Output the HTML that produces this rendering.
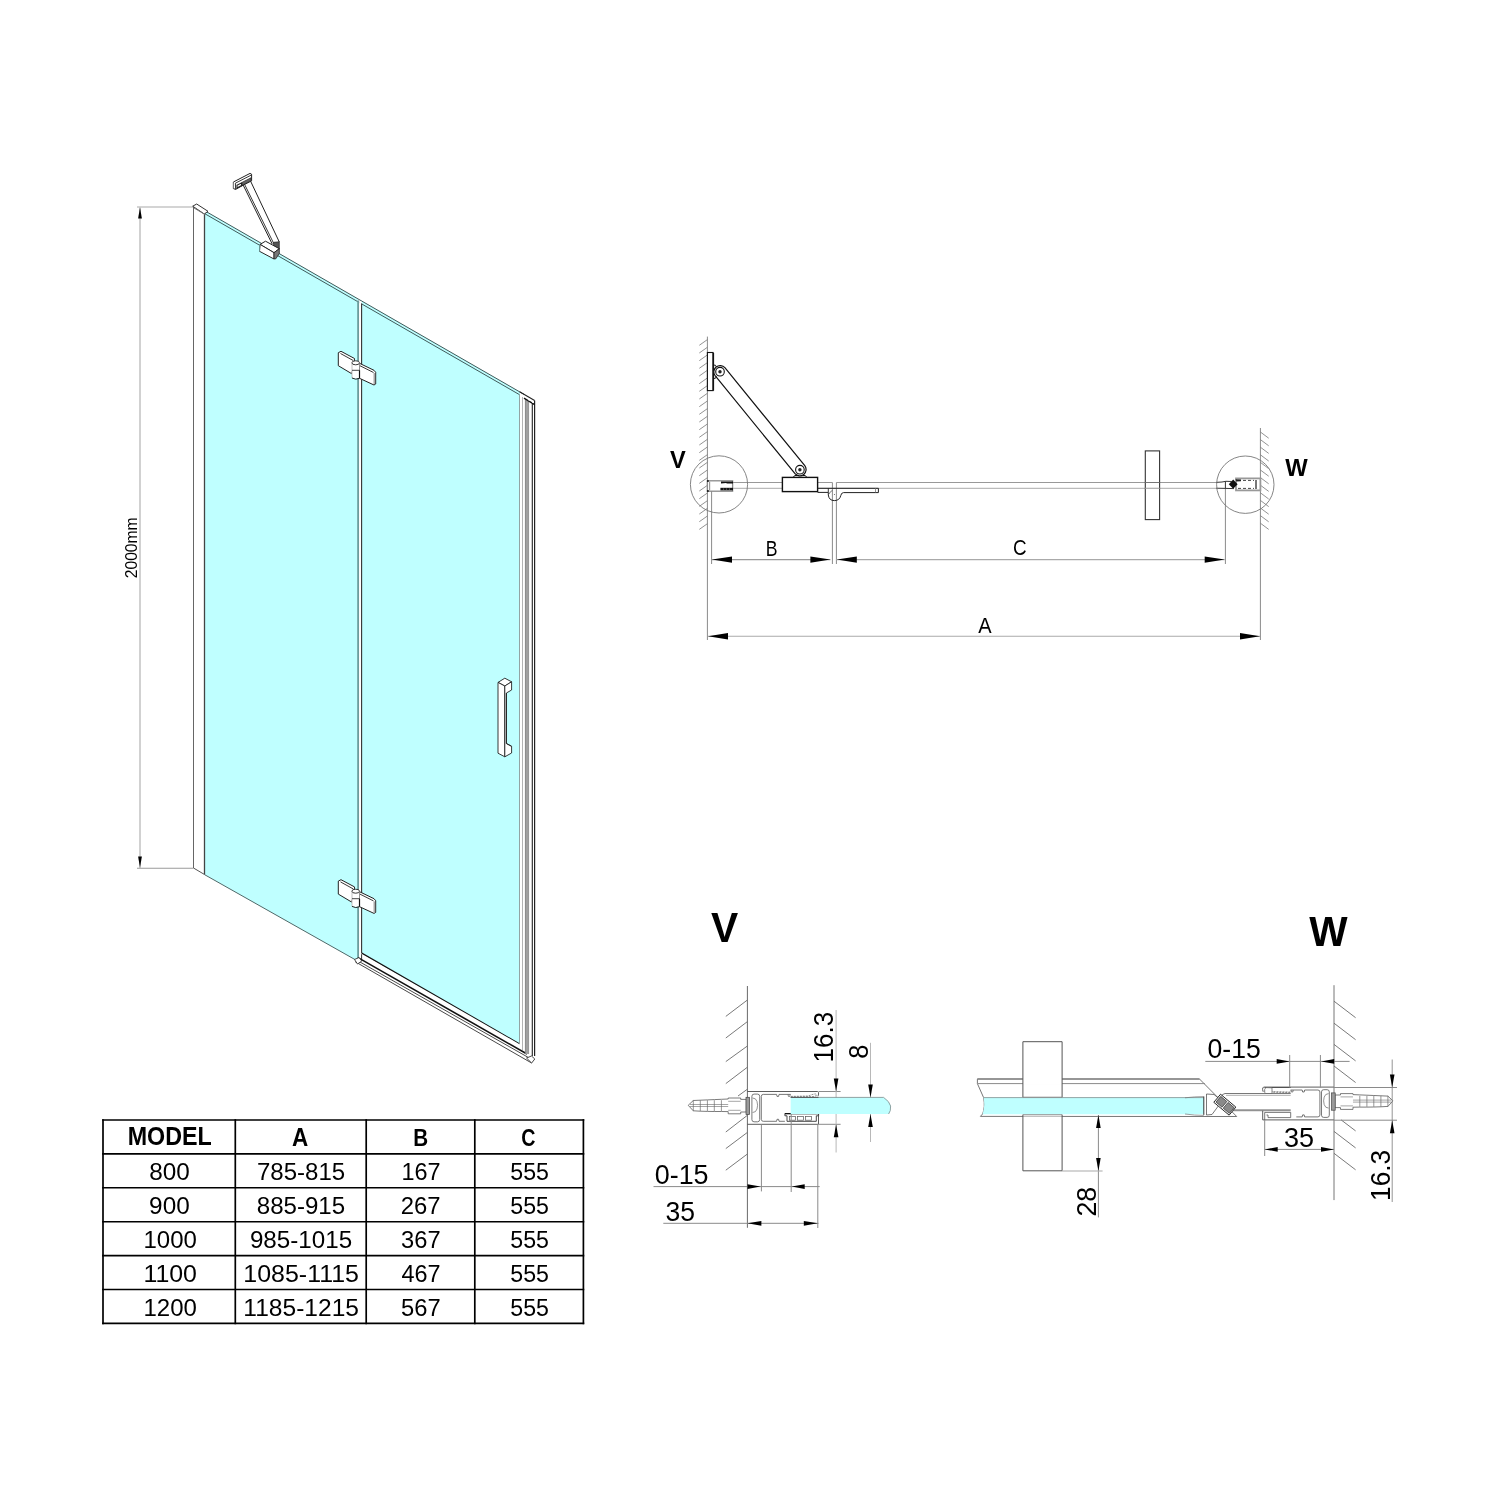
<!DOCTYPE html>
<html><head><meta charset="utf-8"><style>
html,body{margin:0;padding:0;background:#fff;}
svg{display:block;will-change:transform;}
text{font-family:"Liberation Sans", sans-serif;}
</style></head><body>
<svg width="1500" height="1500" viewBox="0 0 1500 1500">
<rect x="0" y="0" width="1500" height="1500" fill="#fff"/>
<line x1="140.00" y1="207.00" x2="140.00" y2="868.00" stroke="#c6c6c6" stroke-width="1.6" />
<line x1="137.00" y1="207.00" x2="193.00" y2="207.00" stroke="#c6c6c6" stroke-width="1.4" />
<line x1="137.00" y1="868.30" x2="193.50" y2="868.30" stroke="#9a9a9a" stroke-width="1.1" />
<polygon points="140.00,207.50 141.90,218.50 138.10,218.50" fill="#000" stroke="none" stroke-width="0" />
<polygon points="140.00,867.50 138.10,856.50 141.90,856.50" fill="#000" stroke="none" stroke-width="0" />
<polygon points="204.50,210.64 357.80,298.79 357.80,961.15 204.50,874.61" fill="#bfffff" stroke="none" stroke-width="0" />
<polygon points="361.40,300.86 520.00,392.05 520.00,1044.44 361.40,953.08" fill="#bfffff" stroke="none" stroke-width="0" />
<line x1="204.30" y1="210.52" x2="524.00" y2="394.35" stroke="#3f5a5a" stroke-width="1.0" />
<line x1="204.30" y1="213.42" x2="519.60" y2="394.72" stroke="#3f5a5a" stroke-width="1.0" />
<line x1="204.50" y1="874.61" x2="355.00" y2="959.57" stroke="#4f6868" stroke-width="1.0" />
<line x1="193.50" y1="206.00" x2="193.50" y2="868.00" stroke="#666" stroke-width="1.0" />
<line x1="204.50" y1="213.00" x2="204.50" y2="874.50" stroke="#444" stroke-width="1.3" />
<line x1="193.50" y1="868.00" x2="204.50" y2="874.50" stroke="#555" stroke-width="1" />
<polygon points="192.70,206.20 196.70,204.00 208.00,211.30 204.30,214.00" fill="#fff" stroke="#333" stroke-width="1" />
<line x1="194.00" y1="208.00" x2="205.00" y2="214.50" stroke="#777" stroke-width="1" />
<rect x="357.20" y="300.44" width="2.00" height="660.37" fill="#6c9c9c" stroke="none" stroke-width="0" />
<rect x="359.20" y="301.59" width="2.30" height="657.23" fill="#fff" stroke="none" stroke-width="0" />
<line x1="361.60" y1="303.47" x2="361.60" y2="953.20" stroke="#333" stroke-width="1.1" />
<line x1="361.60" y1="953.20" x2="519.60" y2="1044.21" stroke="#111" stroke-width="1.7" />
<polygon points="359.30,952.38 519.60,1044.21 531.60,1056.00 531.60,1063.00 359.30,962.91" fill="#fff" stroke="none" stroke-width="0" />
<line x1="361.60" y1="954.20" x2="361.60" y2="960.70" stroke="#333" stroke-width="1" />
<line x1="358.00" y1="957.67" x2="527.00" y2="1054.02" stroke="#111" stroke-width="1.6" />
<line x1="356.00" y1="959.75" x2="530.00" y2="1058.41" stroke="#333" stroke-width="0.9" />
<line x1="355.00" y1="961.58" x2="531.60" y2="1063.00" stroke="#333" stroke-width="0.9" />
<polygon points="354.50,959.50 359.00,957.50 361.80,961.00 357.50,964.00" fill="#fff" stroke="#333" stroke-width="0.9" />
<polygon points="526.50,1058.00 531.50,1056.00 534.80,1059.00 531.60,1063.00" fill="#fff" stroke="#333" stroke-width="0.9" />
<polygon points="519.50,394.66 534.60,400.45 535.00,1056.00 519.50,1044.00" fill="#fff" stroke="none" stroke-width="0" />
<line x1="519.50" y1="394.66" x2="519.50" y2="1044.00" stroke="#8a9a9a" stroke-width="0.9" />
<line x1="522.50" y1="396.99" x2="522.50" y2="1050.00" stroke="#aaa" stroke-width="0.9" />
<polygon points="525.20,399.04 528.80,401.11 528.80,1054.00 525.20,1054.00" fill="#a0a0a0" stroke="none" stroke-width="0" />
<line x1="525.40" y1="399.04" x2="525.40" y2="1054.00" stroke="#777" stroke-width="0.7" />
<line x1="528.60" y1="401.11" x2="528.60" y2="1054.00" stroke="#888" stroke-width="0.7" />
<line x1="532.30" y1="403.62" x2="532.30" y2="1056.00" stroke="#222" stroke-width="1.1" />
<line x1="534.60" y1="400.45" x2="534.60" y2="1056.00" stroke="#222" stroke-width="1.2" />
<line x1="519.60" y1="391.82" x2="534.60" y2="400.45" stroke="#222" stroke-width="1.1" />
<line x1="524.00" y1="398.15" x2="534.60" y2="404.65" stroke="#111" stroke-width="1.3" />
<ellipse cx="529.5" cy="399.71" rx="1.3" ry="1" fill="#fff"/>
<ellipse cx="533" cy="402.12" rx="1" ry="0.9" fill="#fff"/>
<polygon points="498.00,682.40 504.80,678.20 511.60,681.80 504.80,686.00" fill="#fff" stroke="#222" stroke-width="0.9" />
<polygon points="498.00,682.40 504.80,686.00 504.80,756.80 498.00,753.20" fill="#fff" stroke="#222" stroke-width="0.9" />
<polygon points="504.80,686.00 511.60,681.80 511.60,690.00 506.40,693.00 506.40,743.50 511.60,746.30 511.60,753.00 504.80,756.80" fill="#fff" stroke="#222" stroke-width="0.9" />
<line x1="506.40" y1="693.00" x2="506.40" y2="743.50" stroke="#222" stroke-width="0.9" />
<line x1="506.40" y1="743.50" x2="511.60" y2="746.30" stroke="#222" stroke-width="0.9" />
<polygon points="338.30,352.70 341.00,351.30 354.50,358.50 354.00,365.00 351.70,373.70 338.30,365.70" fill="#fff" stroke="#222" stroke-width="1" />
<line x1="340.50" y1="353.50" x2="353.00" y2="360.40" stroke="#222" stroke-width="0.9" />
<polygon points="359.50,363.30 374.00,370.30 375.70,372.30 375.70,384.00 374.00,385.00 359.50,378.30" fill="#fff" stroke="#222" stroke-width="1" />
<line x1="359.50" y1="365.50" x2="373.50" y2="372.50" stroke="#222" stroke-width="0.9" />
<rect x="373.50" y="373.00" width="1.60" height="11.00" fill="#aaa" stroke="none" stroke-width="0" />
<rect x="352.00" y="362.30" width="7.50" height="16.00" fill="#fff" stroke="none" stroke-width="0" />
<line x1="352.00" y1="363.00" x2="352.00" y2="378.00" stroke="#bbb" stroke-width="0.9" />
<line x1="359.50" y1="370.30" x2="359.50" y2="378.30" stroke="#111" stroke-width="1.2" />
<ellipse cx="355.7" cy="362.80" rx="3.8" ry="2" fill="#fff" stroke="#222" stroke-width="0.9"/>
<line x1="352.00" y1="370.30" x2="359.50" y2="370.30" stroke="#333" stroke-width="0.9" />
<path d="M352 378.00 Q355.7 380.20 359.5 378.30" fill="none" stroke="#222" stroke-width="1"/>
<polygon points="338.30,881.10 341.00,879.70 354.50,886.90 354.00,893.40 351.70,902.10 338.30,894.10" fill="#fff" stroke="#222" stroke-width="1" />
<line x1="340.50" y1="881.90" x2="353.00" y2="888.80" stroke="#222" stroke-width="0.9" />
<polygon points="359.50,891.70 374.00,898.70 375.70,900.70 375.70,912.40 374.00,913.40 359.50,906.70" fill="#fff" stroke="#222" stroke-width="1" />
<line x1="359.50" y1="893.90" x2="373.50" y2="900.90" stroke="#222" stroke-width="0.9" />
<rect x="373.50" y="901.40" width="1.60" height="11.00" fill="#aaa" stroke="none" stroke-width="0" />
<rect x="352.00" y="890.70" width="7.50" height="16.00" fill="#fff" stroke="none" stroke-width="0" />
<line x1="352.00" y1="891.40" x2="352.00" y2="906.40" stroke="#bbb" stroke-width="0.9" />
<line x1="359.50" y1="898.70" x2="359.50" y2="906.70" stroke="#111" stroke-width="1.2" />
<ellipse cx="355.7" cy="891.20" rx="3.8" ry="2" fill="#fff" stroke="#222" stroke-width="0.9"/>
<line x1="352.00" y1="898.70" x2="359.50" y2="898.70" stroke="#333" stroke-width="0.9" />
<path d="M352 906.40 Q355.7 908.60 359.5 906.70" fill="none" stroke="#222" stroke-width="1"/>
<polygon points="242.40,183.50 250.50,181.00 279.30,242.00 272.20,244.00" fill="#fff" stroke="none" stroke-width="0" />
<line x1="242.40" y1="183.50" x2="272.20" y2="244.00" stroke="#222" stroke-width="1" />
<line x1="244.00" y1="183.20" x2="273.80" y2="243.60" stroke="#222" stroke-width="0.9" />
<line x1="250.50" y1="181.00" x2="279.30" y2="242.00" stroke="#222" stroke-width="1" />
<polygon points="233.40,182.00 250.00,173.40 251.60,174.20 251.60,180.80 242.00,185.80 235.60,189.40 233.40,188.60" fill="#fff" stroke="#222" stroke-width="1" />
<line x1="235.40" y1="183.20" x2="251.40" y2="175.00" stroke="#222" stroke-width="0.9" />
<line x1="235.40" y1="183.20" x2="235.60" y2="189.40" stroke="#222" stroke-width="0.9" />
<line x1="233.40" y1="182.30" x2="233.40" y2="188.40" stroke="#999" stroke-width="0.8" />
<polygon points="237.00,185.20 241.60,182.80 241.60,185.60 237.00,188.00" fill="#fff" stroke="#222" stroke-width="1.1" />
<polygon points="242.00,182.40 251.00,177.80 251.00,180.60 242.00,185.40" fill="#666" stroke="#222" stroke-width="0.7" />
<polygon points="273.50,242.30 279.30,241.80 279.30,249.00 274.00,252.70" fill="#555" stroke="#222" stroke-width="0.7" />
<polygon points="260.10,244.40 265.50,241.20 279.30,248.70 274.00,252.70" fill="#fff" stroke="#222" stroke-width="1" />
<polygon points="260.10,244.40 274.00,252.70 274.00,259.00 259.50,251.30" fill="#fff" stroke="#2a2a2a" stroke-width="1" />
<polygon points="274.00,252.70 279.30,248.70 279.30,253.50 275.80,258.80 274.00,259.00" fill="#777" stroke="#222" stroke-width="0.8" />
<line x1="259.50" y1="245.00" x2="259.50" y2="251.30" stroke="#6a9a9a" stroke-width="0.9" />
<line x1="707.40" y1="336.60" x2="707.40" y2="640.00" stroke="#8a8a8a" stroke-width="1" />
<line x1="1260.40" y1="428.00" x2="1260.40" y2="640.00" stroke="#8a8a8a" stroke-width="1" />
<line x1="699.30" y1="345.30" x2="707.40" y2="339.60" stroke="#777" stroke-width="0.8" />
<line x1="699.30" y1="352.97" x2="707.40" y2="347.27" stroke="#777" stroke-width="0.8" />
<line x1="699.30" y1="360.64" x2="707.40" y2="354.94" stroke="#777" stroke-width="0.8" />
<line x1="699.30" y1="368.31" x2="707.40" y2="362.61" stroke="#777" stroke-width="0.8" />
<line x1="699.30" y1="375.98" x2="707.40" y2="370.28" stroke="#777" stroke-width="0.8" />
<line x1="699.30" y1="383.65" x2="707.40" y2="377.95" stroke="#777" stroke-width="0.8" />
<line x1="699.30" y1="391.32" x2="707.40" y2="385.62" stroke="#777" stroke-width="0.8" />
<line x1="699.30" y1="398.99" x2="707.40" y2="393.29" stroke="#777" stroke-width="0.8" />
<line x1="699.30" y1="406.66" x2="707.40" y2="400.96" stroke="#777" stroke-width="0.8" />
<line x1="699.30" y1="414.33" x2="707.40" y2="408.63" stroke="#777" stroke-width="0.8" />
<line x1="699.30" y1="422.00" x2="707.40" y2="416.30" stroke="#777" stroke-width="0.8" />
<line x1="699.30" y1="429.67" x2="707.40" y2="423.97" stroke="#777" stroke-width="0.8" />
<line x1="699.30" y1="437.34" x2="707.40" y2="431.64" stroke="#777" stroke-width="0.8" />
<line x1="699.30" y1="445.01" x2="707.40" y2="439.31" stroke="#777" stroke-width="0.8" />
<line x1="699.30" y1="452.68" x2="707.40" y2="446.98" stroke="#777" stroke-width="0.8" />
<line x1="699.30" y1="460.35" x2="707.40" y2="454.65" stroke="#777" stroke-width="0.8" />
<line x1="699.30" y1="468.02" x2="707.40" y2="462.32" stroke="#777" stroke-width="0.8" />
<line x1="699.30" y1="475.69" x2="707.40" y2="469.99" stroke="#777" stroke-width="0.8" />
<line x1="699.30" y1="483.36" x2="707.40" y2="477.66" stroke="#777" stroke-width="0.8" />
<line x1="699.30" y1="491.03" x2="707.40" y2="485.33" stroke="#777" stroke-width="0.8" />
<line x1="699.30" y1="498.70" x2="707.40" y2="493.00" stroke="#777" stroke-width="0.8" />
<line x1="699.30" y1="506.37" x2="707.40" y2="500.67" stroke="#777" stroke-width="0.8" />
<line x1="699.30" y1="514.04" x2="707.40" y2="508.34" stroke="#777" stroke-width="0.8" />
<line x1="699.30" y1="521.71" x2="707.40" y2="516.01" stroke="#777" stroke-width="0.8" />
<line x1="699.30" y1="529.38" x2="707.40" y2="523.68" stroke="#777" stroke-width="0.8" />
<line x1="1260.40" y1="432.00" x2="1268.70" y2="438.20" stroke="#777" stroke-width="0.8" />
<line x1="1260.40" y1="439.60" x2="1268.70" y2="445.80" stroke="#777" stroke-width="0.8" />
<line x1="1260.40" y1="447.20" x2="1268.70" y2="453.40" stroke="#777" stroke-width="0.8" />
<line x1="1260.40" y1="454.80" x2="1268.70" y2="461.00" stroke="#777" stroke-width="0.8" />
<line x1="1260.40" y1="462.40" x2="1268.70" y2="468.60" stroke="#777" stroke-width="0.8" />
<line x1="1260.40" y1="470.00" x2="1268.70" y2="476.20" stroke="#777" stroke-width="0.8" />
<line x1="1260.40" y1="477.60" x2="1268.70" y2="483.80" stroke="#777" stroke-width="0.8" />
<line x1="1260.40" y1="485.20" x2="1268.70" y2="491.40" stroke="#777" stroke-width="0.8" />
<line x1="1260.40" y1="492.80" x2="1268.70" y2="499.00" stroke="#777" stroke-width="0.8" />
<line x1="1260.40" y1="500.40" x2="1268.70" y2="506.60" stroke="#777" stroke-width="0.8" />
<line x1="1260.40" y1="508.00" x2="1268.70" y2="514.20" stroke="#777" stroke-width="0.8" />
<line x1="1260.40" y1="515.60" x2="1268.70" y2="521.80" stroke="#777" stroke-width="0.8" />
<line x1="1260.40" y1="523.20" x2="1268.70" y2="529.40" stroke="#777" stroke-width="0.8" />
<line x1="733.00" y1="482.50" x2="832.40" y2="482.50" stroke="#999" stroke-width="1" />
<line x1="836.40" y1="482.50" x2="1216.00" y2="482.50" stroke="#999" stroke-width="1" />
<line x1="733.00" y1="488.30" x2="1216.00" y2="488.30" stroke="#bbb" stroke-width="1.2" />
<rect x="707.40" y="352.50" width="5.70" height="38.10" fill="#fff" stroke="#111" stroke-width="1.1" />
<line x1="713.30" y1="353.00" x2="713.30" y2="390.60" stroke="#111" stroke-width="1.6" />
<path d="M715.12 375.68 L795.02 473.68 A6.3 6.3 0 0 0 804.78 465.72 L724.88 367.72 A6.3 6.3 0 0 0 715.12 375.68 Z" fill="#fff" stroke="#111" stroke-width="1.2"/>
<circle cx="720.00" cy="371.70" r="4.30" fill="#fff" stroke="#111" stroke-width="1.1" />
<circle cx="720.00" cy="371.70" r="1.70" fill="#222" stroke="none" stroke-width="0" />
<circle cx="799.90" cy="469.70" r="4.30" fill="#fff" stroke="#111" stroke-width="1.1" />
<circle cx="799.90" cy="469.70" r="1.70" fill="#222" stroke="none" stroke-width="0" />
<path d="M793 477.4 Q795 474.5 797 475.5 M803 475.5 Q805 474.5 807 477.4" fill="none" stroke="#111" stroke-width="1"/>
<path d="M713.3 365 Q716 364.5 716.5 367 M713.3 378.5 Q716 379 716.5 376.5" fill="none" stroke="#111" stroke-width="1"/>
<rect x="782.40" y="477.40" width="35.20" height="14.20" fill="#fff" stroke="#111" stroke-width="1.4" />
<rect x="707.40" y="480.80" width="25.20" height="10.40" fill="#fff" stroke="#8a8a8a" stroke-width="1.3" />
<line x1="709.60" y1="481.50" x2="709.60" y2="490.50" stroke="#999" stroke-width="1.2" />
<path d="M721 481.4 L733 481.4 L733 483.6 L727 483.6 L726 483 L721 483.4 Z" fill="#111"/>
<path d="M720.4 487.8 L733 487.8 L733 490.4 L720.4 490.4 Z" fill="#151515"/>
<rect x="723.00" y="488.60" width="1.00" height="1.00" fill="#777" stroke="none" stroke-width="0" />
<rect x="726.00" y="488.60" width="1.00" height="1.00" fill="#777" stroke="none" stroke-width="0" />
<rect x="729.00" y="488.60" width="1.00" height="1.00" fill="#777" stroke="none" stroke-width="0" />
<circle cx="707.90" cy="481.00" r="1.00" fill="#111" stroke="none" stroke-width="0" />
<circle cx="707.90" cy="491.00" r="1.00" fill="#111" stroke="none" stroke-width="0" />
<line x1="711.60" y1="491.00" x2="711.60" y2="564.00" stroke="#8a8a8a" stroke-width="1" />
<line x1="832.40" y1="482.50" x2="832.40" y2="564.00" stroke="#8a8a8a" stroke-width="1" />
<line x1="836.40" y1="482.50" x2="836.40" y2="564.00" stroke="#8a8a8a" stroke-width="1" />
<line x1="1225.40" y1="488.50" x2="1225.40" y2="564.00" stroke="#8a8a8a" stroke-width="1" />
<path d="M817.6 488.3 L878.4 488.3 L878.4 492.6 L843.5 492.6 Q841.2 492.8 840.8 495.5 Q839.6 500.6 834.4 500.6 Q829 500.6 828.3 495 L828.3 492.4 L817.6 492.4" fill="none" stroke="#222" stroke-width="1"/>
<line x1="828.30" y1="488.30" x2="828.30" y2="492.40" stroke="#222" stroke-width="0.9" />
<line x1="875.50" y1="488.30" x2="875.50" y2="492.60" stroke="#777" stroke-width="0.8" />
<circle cx="834.40" cy="494.60" r="0.50" fill="#444" stroke="none" stroke-width="0" />
<path d="M829 494 Q830.5 491 832.4 490.5" fill="none" stroke="#444" stroke-width="0.7"/>
<rect x="1145.30" y="450.90" width="14.30" height="68.70" fill="#fff" stroke="#333" stroke-width="1.1" />
<line x1="1145.30" y1="482.50" x2="1159.60" y2="482.50" stroke="#777" stroke-width="1" />
<line x1="1145.30" y1="488.30" x2="1159.60" y2="488.30" stroke="#aaa" stroke-width="1.2" />
<rect x="1236.00" y="478.40" width="24.40" height="12.00" fill="#fff" stroke="#999" stroke-width="1.8" />
<line x1="1256.00" y1="480.00" x2="1256.00" y2="489.00" stroke="#555" stroke-width="1.6" />
<path d="M1238 480.4 L1254 480.4" stroke="#444" stroke-width="1" stroke-dasharray="3 2" fill="none"/>
<path d="M1238 488.4 L1254 488.4" stroke="#444" stroke-width="1" stroke-dasharray="3 2" fill="none"/>
<polygon points="1228.80,484.20 1233.20,479.60 1237.60,484.20 1233.20,488.80" fill="#111" stroke="none" stroke-width="0" />
<polygon points="1235.50,479.20 1241.00,479.40 1241.00,481.20 1236.50,481.60" fill="#222" stroke="none" stroke-width="0" />
<polyline points="1216.00,482.40 1222.00,482.00 1226.00,481.30 1232.00,481.50" fill="none" stroke="#333" stroke-width="1" />
<polyline points="1216.00,488.20 1226.00,488.40 1234.00,488.60" fill="none" stroke="#333" stroke-width="1" />
<line x1="1225.40" y1="481.50" x2="1225.40" y2="488.40" stroke="#333" stroke-width="1" />
<circle cx="719.00" cy="484.40" r="28.60" fill="none" stroke="#777" stroke-width="0.9" />
<circle cx="1245.30" cy="484.70" r="28.70" fill="none" stroke="#777" stroke-width="0.9" />
<line x1="712.00" y1="559.60" x2="830.40" y2="559.60" stroke="#999" stroke-width="1.1" />
<polygon points="712.00,559.60 732.00,556.40 732.00,562.80" fill="#000" stroke="none" stroke-width="0" />
<polygon points="830.40,559.60 810.40,562.80 810.40,556.40" fill="#000" stroke="none" stroke-width="0" />
<line x1="836.40" y1="559.60" x2="1224.70" y2="559.60" stroke="#aaa" stroke-width="1.1" />
<polygon points="836.80,559.60 856.80,556.40 856.80,562.80" fill="#000" stroke="none" stroke-width="0" />
<polygon points="1224.70,559.60 1204.70,562.80 1204.70,556.40" fill="#000" stroke="none" stroke-width="0" />
<line x1="708.00" y1="636.20" x2="1260.00" y2="636.20" stroke="#aaa" stroke-width="1.1" />
<polygon points="708.00,636.20 728.00,633.00 728.00,639.40" fill="#000" stroke="none" stroke-width="0" />
<polygon points="1260.00,636.20 1240.00,639.40 1240.00,633.00" fill="#000" stroke="none" stroke-width="0" />
<line x1="747.40" y1="986.00" x2="747.40" y2="1227.80" stroke="#6a6a6a" stroke-width="1" />
<line x1="725.80" y1="1016.40" x2="747.40" y2="1000.00" stroke="#6a6a6a" stroke-width="0.9" />
<line x1="725.80" y1="1038.00" x2="747.40" y2="1021.60" stroke="#6a6a6a" stroke-width="0.9" />
<line x1="725.80" y1="1061.60" x2="747.40" y2="1046.00" stroke="#6a6a6a" stroke-width="0.9" />
<line x1="725.80" y1="1083.60" x2="747.40" y2="1067.20" stroke="#6a6a6a" stroke-width="0.9" />
<line x1="725.80" y1="1132.00" x2="747.40" y2="1115.30" stroke="#6a6a6a" stroke-width="0.9" />
<line x1="725.80" y1="1148.60" x2="747.40" y2="1132.40" stroke="#6a6a6a" stroke-width="0.9" />
<line x1="725.80" y1="1170.20" x2="747.40" y2="1154.00" stroke="#6a6a6a" stroke-width="0.9" />
<line x1="738.00" y1="1096.00" x2="747.40" y2="1089.20" stroke="#6a6a6a" stroke-width="0.9" />
<g transform=""><path d="M688.2 1105.3 L693.3 1100.5 L700.3 1100.2 L707.4 1099.9 L714.3 1099.6 L721.4 1099.3 L728.2 1099 L728.2 1098 L740.7 1098 L740.7 1099.4 L746.3 1099.4 L746.3 1112 L740.7 1112 L740.7 1113.8 L728.2 1113.8 L728.2 1111.6 L721.4 1111.5 L714.3 1111.5 L707.4 1111.4 L700.3 1111.2 L693.3 1110.8 Z" fill="#fff" stroke="#5a5a5a" stroke-width="0.8"/><line x1="693.3" y1="1100.2" x2="693.3" y2="1111.2" stroke="#6a6a6a" stroke-width="0.7"/><line x1="700.3" y1="1100.2" x2="700.3" y2="1111.2" stroke="#6a6a6a" stroke-width="0.7"/><line x1="707.4" y1="1100.2" x2="707.4" y2="1111.2" stroke="#6a6a6a" stroke-width="0.7"/><line x1="714.3" y1="1100.2" x2="714.3" y2="1111.2" stroke="#6a6a6a" stroke-width="0.7"/><line x1="721.4" y1="1100.2" x2="721.4" y2="1111.2" stroke="#6a6a6a" stroke-width="0.7"/><line x1="690" y1="1104.5" x2="728.2" y2="1104.5" stroke="#6a6a6a" stroke-width="0.6"/><line x1="690" y1="1106.5" x2="728.2" y2="1106.5" stroke="#6a6a6a" stroke-width="0.6"/><line x1="728.2" y1="1101.3" x2="740.7" y2="1101.3" stroke="#6a6a6a" stroke-width="0.6"/><line x1="728.2" y1="1110.3" x2="740.7" y2="1110.3" stroke="#6a6a6a" stroke-width="0.6"/><rect x="746" y="1097.3" width="3.6" height="17.3" fill="#9a9a9a" stroke="#444" stroke-width="0.7"/><path d="M747.4 1091.5 L817.6 1091.5 Q818.8 1092 818.6 1094 L818 1096.2" fill="none" stroke="#4a4a4a" stroke-width="0.9"/><path d="M747.4 1124.3 L818.5 1124.3 L818.5 1113.6" fill="none" stroke="#4a4a4a" stroke-width="0.9"/><rect x="751.9" y="1094.1" width="7.8" height="27.7" rx="2.2" fill="#fff" stroke="#555" stroke-width="0.8"/><path d="M752.6 1098 Q756 1098 757 1101.5 Q758.2 1105.2 757 1109 Q756 1112.5 752.6 1112.5" fill="none" stroke="#666" stroke-width="0.7"/><path d="M790.7 1094.4 L779 1094.4 L778.6 1096.4 L777 1096.4 L776.6 1094.4 L763.3 1094.4 Q761.3 1094.4 761.3 1096.4 L761.3 1119.3 Q761.3 1121.3 763.3 1121.3 L776.6 1121.3 L777 1119.3 L778.6 1119.3 L779 1121.3 L784.9 1121.3" fill="none" stroke="#555" stroke-width="0.8"/><path d="M788 1094.4 L788.4 1096.4 L789.8 1096.4 L790.2 1094.4" fill="none" stroke="#555" stroke-width="0.7"/><path d="M790.7 1096.4 L808 1096 L812 1094.6 L815.5 1093.8 L816.6 1095.6 L813 1096.6 L790.7 1097" fill="none" stroke="#666" stroke-width="0.7" stroke-dasharray="2 1"/></g>
<path d="M784.9 1113.6 L818.6 1113.6 L818.6 1115.8 L816.3 1115.8 L816.3 1121.3 L787 1121.3 L787 1115.8 L784.9 1115.8 Z" fill="#fff" stroke="#333" stroke-width="0.9"/>
<rect x="789.50" y="1116.60" width="6.00" height="3.60" fill="none" stroke="#555" stroke-width="0.7" />
<rect x="797.50" y="1116.60" width="6.00" height="3.60" fill="none" stroke="#555" stroke-width="0.7" />
<rect x="805.50" y="1116.60" width="6.00" height="3.60" fill="none" stroke="#555" stroke-width="0.7" />
<line x1="784.90" y1="1113.60" x2="818.60" y2="1113.60" stroke="#111" stroke-width="1.3" />
<line x1="818.50" y1="1091.50" x2="840.60" y2="1091.50" stroke="#8a8a8a" stroke-width="1" />
<line x1="818.50" y1="1124.30" x2="840.60" y2="1124.30" stroke="#8a8a8a" stroke-width="1" />
<line x1="836.10" y1="1010.00" x2="836.10" y2="1152.50" stroke="#b8b8b8" stroke-width="1" />
<polygon points="836.10,1091.50 833.80,1078.50 838.40,1078.50" fill="#000" stroke="none" stroke-width="0" />
<polygon points="836.10,1124.30 838.40,1137.30 833.80,1137.30" fill="#000" stroke="none" stroke-width="0" />
<line x1="870.50" y1="1042.80" x2="870.50" y2="1142.00" stroke="#b8b8b8" stroke-width="1" />
<polygon points="870.50,1097.40 868.20,1084.40 872.80,1084.40" fill="#000" stroke="none" stroke-width="0" />
<polygon points="870.50,1114.00 872.80,1127.00 868.20,1127.00" fill="#000" stroke="none" stroke-width="0" />
<path d="M790.7 1097.4 L883.6 1097.4 Q889.6 1101.5 890.6 1106 Q891 1111 888.6 1114 L790.7 1114 Z" fill="#bfffff" stroke="none"/>
<path d="M790.7 1097.4 L883.6 1097.4 Q889.6 1101.5 890.6 1106 Q891 1111 888.6 1114" fill="none" stroke="#7a8a8a" stroke-width="0.8"/>
<line x1="790.70" y1="1097.40" x2="818.50" y2="1097.40" stroke="#555" stroke-width="1" />
<line x1="761.40" y1="1124.30" x2="761.40" y2="1191.40" stroke="#8a8a8a" stroke-width="1" />
<line x1="791.20" y1="1114.00" x2="791.20" y2="1192.00" stroke="#8a8a8a" stroke-width="1" />
<line x1="817.80" y1="1124.30" x2="817.80" y2="1228.00" stroke="#8a8a8a" stroke-width="1" />
<line x1="653.50" y1="1186.60" x2="819.70" y2="1186.60" stroke="#8a8a8a" stroke-width="1" />
<polygon points="760.50,1186.60 747.50,1189.00 747.50,1184.20" fill="#000" stroke="none" stroke-width="0" />
<polygon points="791.70,1186.60 804.70,1184.20 804.70,1189.00" fill="#000" stroke="none" stroke-width="0" />
<line x1="663.30" y1="1223.30" x2="818.50" y2="1223.30" stroke="#8a8a8a" stroke-width="1" />
<polygon points="747.40,1223.30 761.40,1220.90 761.40,1225.70" fill="#000" stroke="none" stroke-width="0" />
<polygon points="817.80,1223.30 803.80,1225.70 803.80,1220.90" fill="#000" stroke="none" stroke-width="0" />
<line x1="1334.00" y1="985.20" x2="1334.00" y2="1200.10" stroke="#777" stroke-width="1" />
<line x1="1334.00" y1="1001.20" x2="1355.60" y2="1017.70" stroke="#6a6a6a" stroke-width="0.9" />
<line x1="1334.00" y1="1023.20" x2="1355.60" y2="1039.70" stroke="#6a6a6a" stroke-width="0.9" />
<line x1="1334.00" y1="1044.40" x2="1355.60" y2="1060.90" stroke="#6a6a6a" stroke-width="0.9" />
<line x1="1334.00" y1="1066.00" x2="1355.60" y2="1082.50" stroke="#6a6a6a" stroke-width="0.9" />
<line x1="1334.00" y1="1131.40" x2="1355.60" y2="1147.90" stroke="#6a6a6a" stroke-width="0.9" />
<line x1="1334.00" y1="1153.30" x2="1355.60" y2="1169.80" stroke="#6a6a6a" stroke-width="0.9" />
<line x1="1341.00" y1="1119.80" x2="1355.60" y2="1130.90" stroke="#6a6a6a" stroke-width="0.9" />
<g transform="translate(2081.2 -4.4) scale(-1 1)"><path d="M688.2 1105.3 L693.3 1100.5 L700.3 1100.2 L707.4 1099.9 L714.3 1099.6 L721.4 1099.3 L728.2 1099 L728.2 1098 L740.7 1098 L740.7 1099.4 L746.3 1099.4 L746.3 1112 L740.7 1112 L740.7 1113.8 L728.2 1113.8 L728.2 1111.6 L721.4 1111.5 L714.3 1111.5 L707.4 1111.4 L700.3 1111.2 L693.3 1110.8 Z" fill="#fff" stroke="#5a5a5a" stroke-width="0.8"/><line x1="693.3" y1="1100.2" x2="693.3" y2="1111.2" stroke="#6a6a6a" stroke-width="0.7"/><line x1="700.3" y1="1100.2" x2="700.3" y2="1111.2" stroke="#6a6a6a" stroke-width="0.7"/><line x1="707.4" y1="1100.2" x2="707.4" y2="1111.2" stroke="#6a6a6a" stroke-width="0.7"/><line x1="714.3" y1="1100.2" x2="714.3" y2="1111.2" stroke="#6a6a6a" stroke-width="0.7"/><line x1="721.4" y1="1100.2" x2="721.4" y2="1111.2" stroke="#6a6a6a" stroke-width="0.7"/><line x1="690" y1="1104.5" x2="728.2" y2="1104.5" stroke="#6a6a6a" stroke-width="0.6"/><line x1="690" y1="1106.5" x2="728.2" y2="1106.5" stroke="#6a6a6a" stroke-width="0.6"/><line x1="728.2" y1="1101.3" x2="740.7" y2="1101.3" stroke="#6a6a6a" stroke-width="0.6"/><line x1="728.2" y1="1110.3" x2="740.7" y2="1110.3" stroke="#6a6a6a" stroke-width="0.6"/><rect x="746" y="1097.3" width="3.6" height="17.3" fill="#9a9a9a" stroke="#444" stroke-width="0.7"/><path d="M747.4 1091.5 L817.6 1091.5 Q818.8 1092 818.6 1094 L818 1096.2" fill="none" stroke="#4a4a4a" stroke-width="0.9"/><path d="M747.4 1124.3 L818.5 1124.3 L818.5 1113.6" fill="none" stroke="#4a4a4a" stroke-width="0.9"/><rect x="751.9" y="1094.1" width="7.8" height="27.7" rx="2.2" fill="#fff" stroke="#555" stroke-width="0.8"/><path d="M752.6 1098 Q756 1098 757 1101.5 Q758.2 1105.2 757 1109 Q756 1112.5 752.6 1112.5" fill="none" stroke="#666" stroke-width="0.7"/><path d="M790.7 1094.4 L779 1094.4 L778.6 1096.4 L777 1096.4 L776.6 1094.4 L763.3 1094.4 Q761.3 1094.4 761.3 1096.4 L761.3 1119.3 Q761.3 1121.3 763.3 1121.3 L776.6 1121.3 L777 1119.3 L778.6 1119.3 L779 1121.3 L784.9 1121.3" fill="none" stroke="#555" stroke-width="0.8"/><path d="M788 1094.4 L788.4 1096.4 L789.8 1096.4 L790.2 1094.4" fill="none" stroke="#555" stroke-width="0.7"/><path d="M790.7 1096.4 L808 1096 L812 1094.6 L815.5 1093.8 L816.6 1095.6 L813 1096.6 L790.7 1097" fill="none" stroke="#666" stroke-width="0.7" stroke-dasharray="2 1"/></g>
<path d="M1264.7 1120.3 L1264.7 1112.4 L1290.7 1112.4 L1290.7 1117.6 L1268 1117.6 L1268 1115 L1266.5 1115" fill="none" stroke="#555" stroke-width="0.8"/>
<path d="M1264.7 1087.5 L1290.7 1087.5" fill="none" stroke="#4a4a4a" stroke-width="0.9"/>
<path d="M1264.7 1089.2 L1266 1087.6 L1272 1087.8 L1272 1093.8 L1266 1093.8 L1264.7 1092.3 Z" fill="#fff" stroke="#555" stroke-width="0.7"/>
<path d="M1290.7 1093.5 L1225 1093.5 Q1221.6 1094 1221.6 1097 L1221.6 1107 Q1222 1110.7 1225 1110.7 L1290.7 1110.7" fill="#fff" stroke="#555" stroke-width="0.8"/>
<line x1="1226.00" y1="1095.30" x2="1290.70" y2="1095.30" stroke="#777" stroke-width="0.6" />
<line x1="1226.00" y1="1109.50" x2="1290.70" y2="1109.50" stroke="#777" stroke-width="0.6" />
<path d="M977.4 1079 L1199.5 1079 L1236.7 1116.5 L980.4 1116.4 L982.6 1114 Q985.4 1107 983.6 1097.6 L977.4 1083.6 Z" fill="#fff" stroke="#666" stroke-width="0.9"/>
<line x1="977.40" y1="1079.00" x2="1199.50" y2="1079.00" stroke="#8a8a8a" stroke-width="1.5" />
<line x1="977.40" y1="1083.60" x2="1205.00" y2="1083.60" stroke="#8a8a8a" stroke-width="1" />
<path d="M983.6 1097.6 L1203.8 1097.6 L1203.8 1114.2 L982.6 1114.2 Q985.4 1107 983.6 1097.6 Z" fill="#bfffff" stroke="none"/>
<line x1="983.60" y1="1097.60" x2="1203.80" y2="1097.60" stroke="#8a9a9a" stroke-width="0.9" />
<line x1="1203.80" y1="1096.50" x2="1203.80" y2="1114.90" stroke="#333" stroke-width="1" />
<path d="M1206.5 1094 L1214 1094.5 L1222 1101 L1212 1114.5 L1206.5 1115 Z" fill="none" stroke="#555" stroke-width="0.8"/>
<rect x="1022.90" y="1041.70" width="39.20" height="42.50" fill="#fff" stroke="none" stroke-width="0" />
<rect x="1022.90" y="1116.50" width="39.20" height="54.30" fill="#fff" stroke="none" stroke-width="0" />
<rect x="1022.90" y="1084.20" width="39.20" height="13.00" fill="#fff" stroke="none" stroke-width="0" />
<polyline points="1022.90,1097.20 1022.90,1041.70 1062.10,1041.70 1062.10,1097.20" fill="none" stroke="#555" stroke-width="1" />
<polyline points="1022.90,1114.70 1022.90,1170.80 1062.10,1170.80 1062.10,1114.70" fill="none" stroke="#555" stroke-width="1" />
<line x1="1022.90" y1="1097.20" x2="1062.10" y2="1097.20" stroke="#777" stroke-width="0.8" />
<line x1="1022.90" y1="1114.70" x2="1062.10" y2="1114.70" stroke="#777" stroke-width="0.8" />
<g transform="rotate(40 1225 1104.5)"><rect x="1215" y="1099.5" width="20" height="10.5" fill="#fff" stroke="#222" stroke-width="0.9"/><rect x="1216.5" y="1101" width="8" height="7.5" fill="#8a8a8a" stroke="#222" stroke-width="0.6"/><rect x="1226" y="1101" width="8" height="7.5" fill="#8a8a8a" stroke="#222" stroke-width="0.6"/></g>
<path d="M1185 1097.8 Q1195 1096.6 1203.8 1096.6 M1185 1114 Q1195 1115.4 1203.8 1115.4" fill="none" stroke="#777" stroke-width="0.7"/>
<line x1="1098.40" y1="1115.00" x2="1098.40" y2="1217.40" stroke="#8a8a8a" stroke-width="1" />
<polygon points="1098.40,1115.00 1100.70,1128.00 1096.10,1128.00" fill="#000" stroke="none" stroke-width="0" />
<polygon points="1098.40,1171.00 1096.10,1158.00 1100.70,1158.00" fill="#000" stroke="none" stroke-width="0" />
<line x1="1062.10" y1="1171.00" x2="1102.60" y2="1171.00" stroke="#aaa" stroke-width="1.2" />
<line x1="1205.30" y1="1061.40" x2="1349.60" y2="1061.40" stroke="#8a8a8a" stroke-width="1" />
<polygon points="1289.70,1061.40 1276.70,1063.70 1276.70,1059.10" fill="#000" stroke="none" stroke-width="0" />
<polygon points="1321.20,1061.40 1334.20,1059.10 1334.20,1063.70" fill="#000" stroke="none" stroke-width="0" />
<line x1="1289.70" y1="1055.00" x2="1289.70" y2="1087.50" stroke="#8a8a8a" stroke-width="1" />
<line x1="1320.40" y1="1055.00" x2="1320.40" y2="1087.50" stroke="#8a8a8a" stroke-width="1" />
<line x1="1264.70" y1="1120.30" x2="1264.70" y2="1156.00" stroke="#8a8a8a" stroke-width="1" />
<line x1="1264.70" y1="1149.40" x2="1334.00" y2="1149.40" stroke="#8a8a8a" stroke-width="1" />
<polygon points="1264.70,1149.40 1277.70,1147.10 1277.70,1151.70" fill="#000" stroke="none" stroke-width="0" />
<polygon points="1334.00,1149.40 1321.00,1151.70 1321.00,1147.10" fill="#000" stroke="none" stroke-width="0" />
<line x1="1334.00" y1="1087.50" x2="1397.00" y2="1087.50" stroke="#8a8a8a" stroke-width="1" />
<line x1="1334.00" y1="1120.20" x2="1397.00" y2="1120.20" stroke="#8a8a8a" stroke-width="1" />
<line x1="1392.20" y1="1059.50" x2="1392.20" y2="1202.00" stroke="#888" stroke-width="0.9" />
<polygon points="1392.20,1087.50 1389.90,1074.50 1394.50,1074.50" fill="#000" stroke="none" stroke-width="0" />
<polygon points="1392.20,1120.20 1394.50,1133.20 1389.90,1133.20" fill="#000" stroke="none" stroke-width="0" />
<line x1="103.00" y1="1119.15" x2="103.00" y2="1324.25" stroke="#000" stroke-width="1.7" />
<line x1="235.30" y1="1119.15" x2="235.30" y2="1324.25" stroke="#000" stroke-width="1.7" />
<line x1="366.20" y1="1119.15" x2="366.20" y2="1324.25" stroke="#000" stroke-width="1.7" />
<line x1="474.80" y1="1119.15" x2="474.80" y2="1324.25" stroke="#000" stroke-width="1.7" />
<line x1="583.40" y1="1119.15" x2="583.40" y2="1324.25" stroke="#000" stroke-width="1.7" />
<line x1="102.15" y1="1120.00" x2="584.25" y2="1120.00" stroke="#000" stroke-width="1.6" />
<line x1="102.15" y1="1153.90" x2="584.25" y2="1153.90" stroke="#000" stroke-width="1.6" />
<line x1="102.15" y1="1187.80" x2="584.25" y2="1187.80" stroke="#000" stroke-width="1.6" />
<line x1="102.15" y1="1221.70" x2="584.25" y2="1221.70" stroke="#000" stroke-width="1.6" />
<line x1="102.15" y1="1255.60" x2="584.25" y2="1255.60" stroke="#000" stroke-width="1.6" />
<line x1="102.15" y1="1289.50" x2="584.25" y2="1289.50" stroke="#000" stroke-width="1.6" />
<line x1="102.15" y1="1323.40" x2="584.25" y2="1323.40" stroke="#000" stroke-width="1.6" />
<text x="0" y="0" font-size="16.62" font-weight="normal" fill="#000" transform="translate(136.630 578.257) rotate(-90) scale(0.9431 0.9600)">2000mm</text>
<text x="0" y="0" font-size="24.02" font-weight="bold" fill="#000" transform="translate(670.027 467.750) scale(0.9841 1.0045)">V</text>
<text x="0" y="0" font-size="23.88" font-weight="bold" fill="#000" transform="translate(1285.250 475.750) scale(0.9956 1.0061)">W</text>
<text x="0" y="0" font-size="22.07" font-weight="normal" fill="#000" transform="translate(765.850 555.550) scale(0.8000 1.0033)">B</text>
<text x="0" y="0" font-size="22.21" font-weight="normal" fill="#000" transform="translate(1012.894 555.406) scale(0.8500 0.9778)">C</text>
<text x="0" y="0" font-size="22.21" font-weight="normal" fill="#000" transform="translate(978.137 632.650) scale(0.9026 1.0016)">A</text>
<text x="0" y="0" font-size="41.62" font-weight="bold" fill="#000" transform="translate(711.005 941.550) scale(0.9798 1.0236)">V</text>
<text x="0" y="0" font-size="27.65" font-weight="normal" fill="#000" transform="translate(833.204 1062.438) rotate(-90) scale(0.9442 0.9834)">16.3</text>
<text x="0" y="0" font-size="27.65" font-weight="normal" fill="#000" transform="translate(867.504 1058.787) rotate(-90) scale(0.9219 0.9834)">8</text>
<text x="0" y="0" font-size="27.51" font-weight="normal" fill="#000" transform="translate(654.773 1184.005) scale(0.9774 0.9783)">0-15</text>
<text x="0" y="0" font-size="27.51" font-weight="normal" fill="#000" transform="translate(665.585 1220.505) scale(0.9649 0.9783)">35</text>
<text x="0" y="0" font-size="41.9" font-weight="bold" fill="#000" transform="translate(1309.250 945.750) scale(0.9696 1.0216)">W</text>
<text x="0" y="0" font-size="27.51" font-weight="normal" fill="#000" transform="translate(1095.505 1216.594) rotate(-90) scale(0.9778 0.9783)">28</text>
<text x="0" y="0" font-size="27.65" font-weight="normal" fill="#000" transform="translate(1207.487 1058.204) scale(0.9634 0.9834)">0-15</text>
<text x="0" y="0" font-size="27.37" font-weight="normal" fill="#000" transform="translate(1284.063 1147.004) scale(0.9868 0.9858)">35</text>
<text x="0" y="0" font-size="27.93" font-weight="normal" fill="#000" transform="translate(1389.503 1200.946) rotate(-90) scale(0.9392 0.9873)">16.3</text>
<text x="0" y="0" font-size="25.28" font-weight="bold" fill="#000" transform="translate(127.653 1145.304) scale(0.9213 0.9846)">MODEL</text>
<text x="0" y="0" font-size="25.14" font-weight="bold" fill="#000" transform="translate(292.091 1145.624) scale(0.8948 1.0072)">A</text>
<text x="0" y="0" font-size="24.58" font-weight="bold" fill="#000" transform="translate(413.285 1145.750) scale(0.8400 1.0059)">B</text>
<text x="0" y="0" font-size="24.58" font-weight="bold" fill="#000" transform="translate(521.250 1145.506) scale(0.8000 0.9771)">C</text>
<text x="0" y="0" font-size="24.02" font-weight="normal" fill="#000" transform="translate(149.238 1179.606) scale(1.0125 0.9752)">800</text>
<text x="0" y="0" font-size="24.02" font-weight="normal" fill="#000" transform="translate(256.924 1179.606) scale(1.0012 0.9752)">785-815</text>
<text x="0" y="0" font-size="24.02" font-weight="normal" fill="#000" transform="translate(401.439 1179.606) scale(0.9778 0.9752)">167</text>
<text x="0" y="0" font-size="24.02" font-weight="normal" fill="#000" transform="translate(510.285 1179.603) scale(0.9652 0.9896)">555</text>
<text x="0" y="0" font-size="24.02" font-weight="normal" fill="#000" transform="translate(149.110 1213.606) scale(1.0132 0.9752)">900</text>
<text x="0" y="0" font-size="24.02" font-weight="normal" fill="#000" transform="translate(256.747 1213.606) scale(1.0032 0.9752)">885-915</text>
<text x="0" y="0" font-size="24.02" font-weight="normal" fill="#000" transform="translate(400.832 1213.606) scale(0.9934 0.9752)">267</text>
<text x="0" y="0" font-size="24.02" font-weight="normal" fill="#000" transform="translate(510.285 1213.603) scale(0.9652 0.9896)">555</text>
<text x="0" y="0" font-size="24.02" font-weight="normal" fill="#000" transform="translate(143.498 1247.606) scale(1.0010 0.9752)">1000</text>
<text x="0" y="0" font-size="24.02" font-weight="normal" fill="#000" transform="translate(249.917 1247.606) scale(1.0073 0.9752)">985-1015</text>
<text x="0" y="0" font-size="24.02" font-weight="normal" fill="#000" transform="translate(401.087 1247.606) scale(0.9868 0.9752)">367</text>
<text x="0" y="0" font-size="24.02" font-weight="normal" fill="#000" transform="translate(510.285 1247.603) scale(0.9652 0.9896)">555</text>
<text x="0" y="0" font-size="24.02" font-weight="normal" fill="#000" transform="translate(143.436 1281.606) scale(1.0367 0.9752)">1100</text>
<text x="0" y="0" font-size="24.02" font-weight="normal" fill="#000" transform="translate(243.331 1281.606) scale(1.0394 0.9752)">1085-1115</text>
<text x="0" y="0" font-size="24.02" font-weight="normal" fill="#000" transform="translate(401.461 1281.606) scale(0.9772 0.9752)">467</text>
<text x="0" y="0" font-size="24.02" font-weight="normal" fill="#000" transform="translate(510.285 1281.603) scale(0.9652 0.9896)">555</text>
<text x="0" y="0" font-size="24.02" font-weight="normal" fill="#000" transform="translate(143.498 1315.606) scale(1.0010 0.9752)">1200</text>
<text x="0" y="0" font-size="24.02" font-weight="normal" fill="#000" transform="translate(243.360 1315.606) scale(1.0229 0.9752)">1185-1215</text>
<text x="0" y="0" font-size="24.02" font-weight="normal" fill="#000" transform="translate(400.960 1315.606) scale(0.9901 0.9752)">567</text>
<text x="0" y="0" font-size="24.02" font-weight="normal" fill="#000" transform="translate(510.285 1315.603) scale(0.9652 0.9896)">555</text>
</svg>
</body></html>
